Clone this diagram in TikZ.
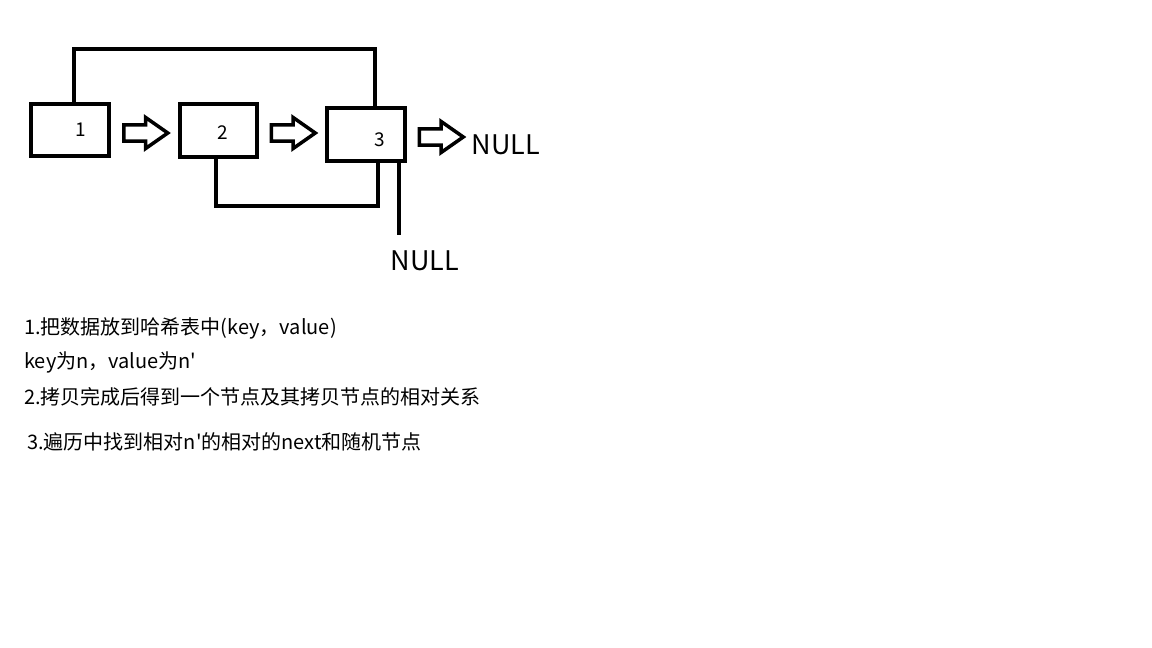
\documentclass[tikz,border=0pt]{standalone}
\usepackage{fontspec}
\setmainfont{Noto Sans CJK SC}[Ligatures=TeXOff]
\usetikzlibrary{shapes.arrows}

\tikzset{
  box/.style={draw, line width=4pt, minimum width=78pt, minimum height=52pt, inner sep=0pt},
  hollow/.style={draw, line width=3.5pt, single arrow, single arrow tip angle=70,
                 inner sep=6pt, minimum width=31pt, minimum height=44pt},
  wire/.style={line width=4pt},
  num/.style={font=\fontsize{19}{19}\selectfont},
  nulltxt/.style={font=\fontsize{27}{27}\selectfont},
  step text/.style={anchor=west, inner sep=0pt, font=\fontsize{20}{20}\selectfont}
}

\begin{document}
\begin{tikzpicture}[x=1pt,y=-1pt]
        \useasboundingbox (0,0) rectangle (1152,648);

        % Knoten
        \node[box] (b1) at (70,130)    {};
        \node[box, minimum width=77pt, minimum height=53pt] (b2) at (218.5,130.5) {};
        \node[box, minimum height=53pt] (b3) at (366,134.5) {};

        \node[num] (n1) at (81,130)  {1};
        \node[num] (n2) at (223,133) {2};
        \node[num] (n3) at (380,140) {3};

        % Pfeile
        \node[hollow] (a1) at (140,133)   {};
        \node[hollow] (a2) at (287.5,133) {};
        \node[hollow] (a3) at (435.5,137) {};

        \node[nulltxt] (null1) at (506,145) {NULL};
        \node[nulltxt] (null2) at (425,261) {NULL};

        % Verbindungen
        \coordinate (top1) at (74,49);
        \coordinate (top3) at (375,49);
        \coordinate (bot2) at (216,206);
        \coordinate (bot3) at (378,206);
        \coordinate (end3) at (399,235);

        \draw[wire] (top1 |- b1.north) -- (top1) -- (top3) -- (top3 |- b3.north);
        \draw[wire] (bot2 |- b2.south) -- (bot2) -- (bot3) -- (bot3 |- b3.south);
        \draw[wire] (end3 |- b3.south) -- (end3);

        % Schritte
        \node[step text] (s1) at (24,328) {1.把数据放到哈希表中(key，value)};
        \node[step text] (s2) at (24,362) {key为n，value为n'};
        \node[step text] (s3) at (24,397) {2.拷贝完成后得到一个节点及其拷贝节点的相对关系};
        \node[step text] (s4) at (27,442) {3.遍历中找到相对n'的相对的next和随机节点};
\end{tikzpicture}
\end{document}
